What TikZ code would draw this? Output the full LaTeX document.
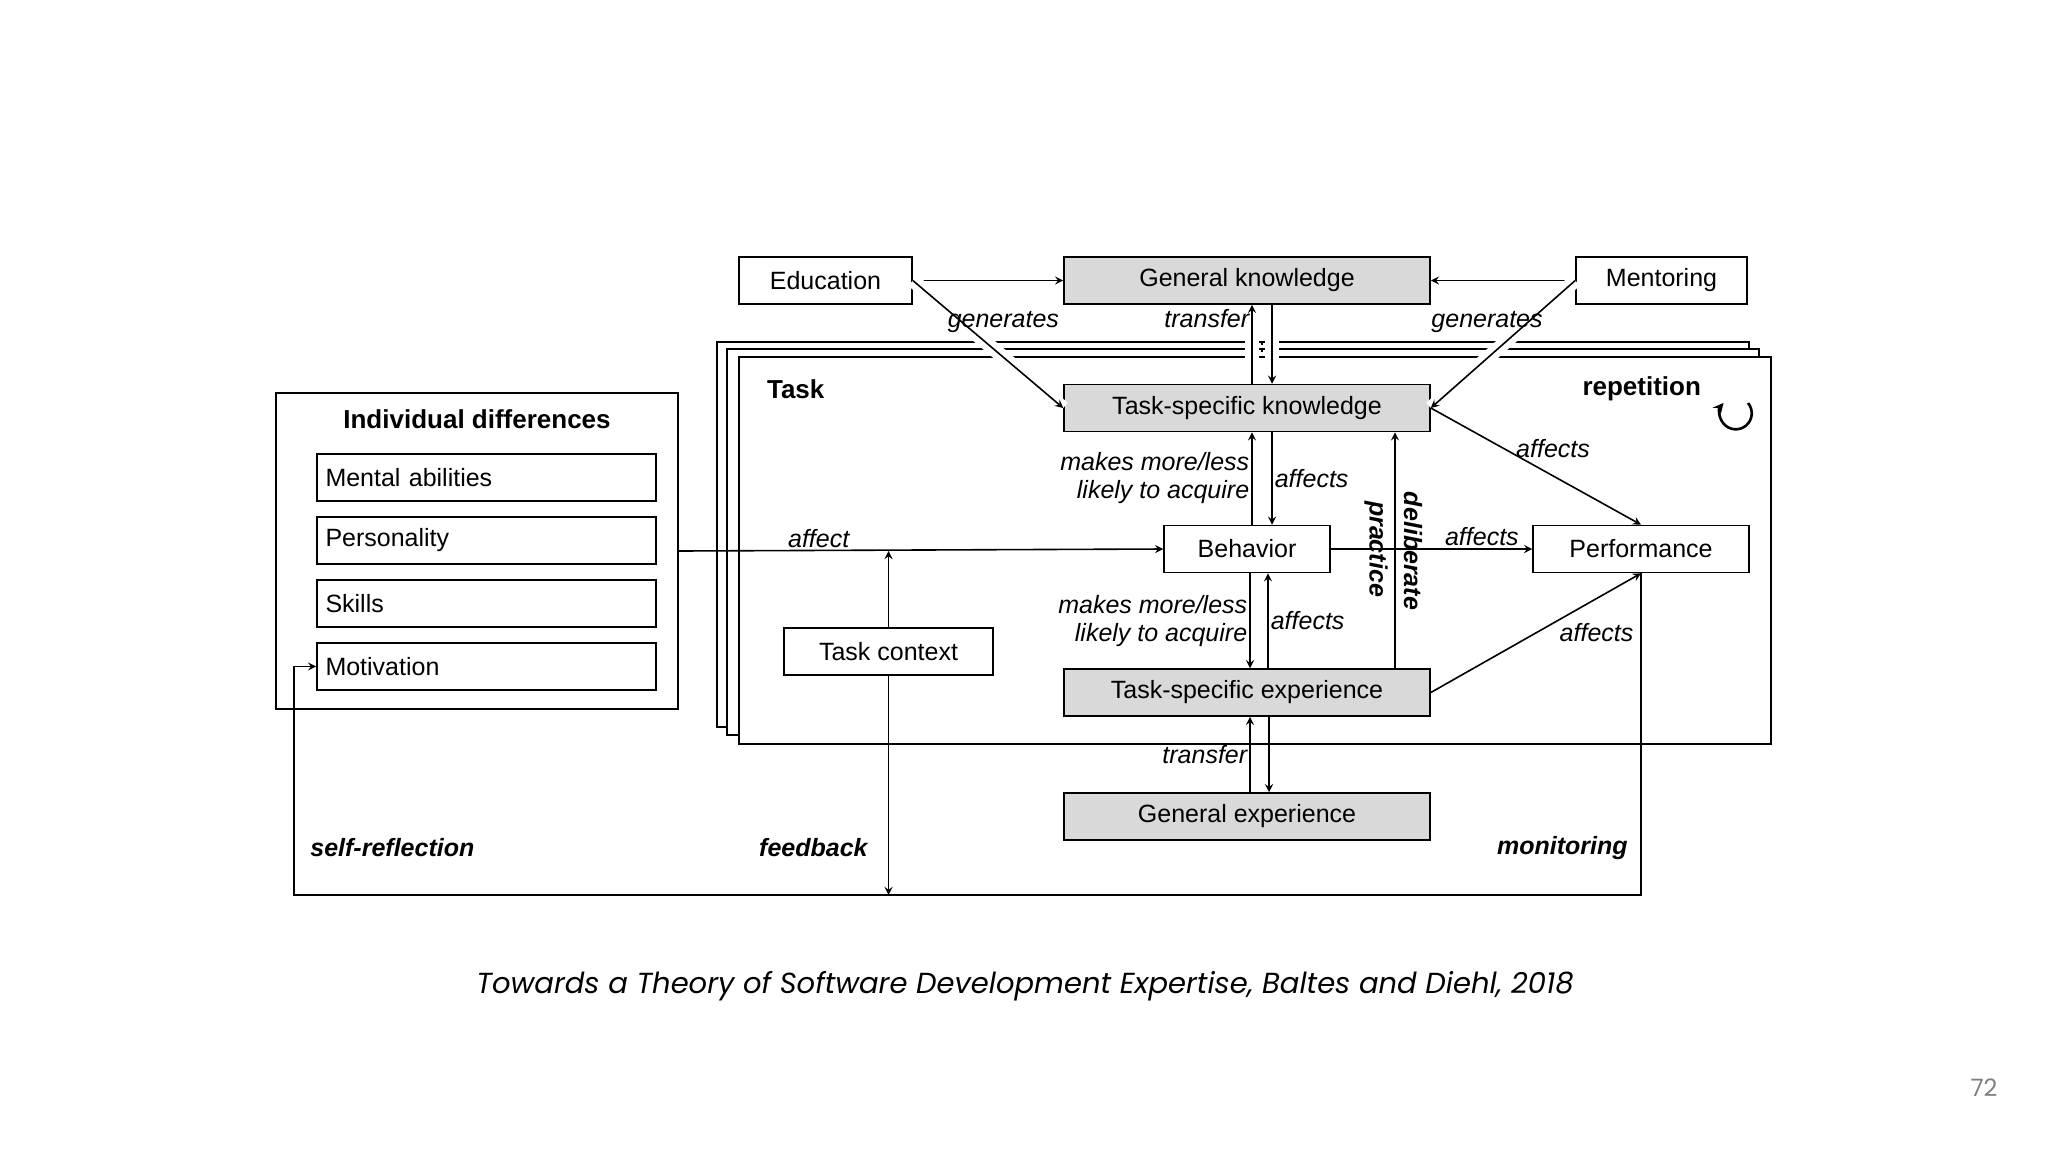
\documentclass[tikz,border=0pt]{standalone}
\usepackage{fontspec}
\setmainfont{Liberation Sans}
\newfontfamily\capfont{Poppins}
\usetikzlibrary{arrows,shapes,calc,positioning}
\tikzstyle{box} = [rectangle, draw=black, line width=0.8pt, minimum height=23.5pt, text centered, inner sep=0pt, font=\fontsize{12.5}{14}\selectfont]
\tikzstyle{grey} = [box, fill=black!15, minimum width=183pt]
\tikzstyle{item} = [box, minimum width=169.5pt, text width=161pt, align=left]
\tikzstyle{frame} = [draw=black, line width=1.4pt, fill=white]
\tikzstyle{arrow} = [line width=0.8pt,->,>=stealth]
\tikzstyle{cut} = [preaction={draw=white, line width=7pt, -}]
\tikzstyle{lbl} = [font=\fontsize{12.5}{14}\selectfont\itshape, inner sep=1pt]
\tikzstyle{blbl} = [font=\fontsize{12.5}{14}\selectfont\bfseries\itshape, inner sep=1pt]
\begin{document}
\begin{tikzpicture}[x=0.5pt, y=-0.5pt]
\useasboundingbox (0,0) rectangle (2048,1152);
% stacked task frames
\draw [frame] (717,342) rectangle (1749,727);
\draw [frame] (727,349) rectangle (1759,735);
\draw [frame] (739,357) rectangle (1771,744);
\node [anchor=west, font=\fontsize{13}{15}\selectfont\bfseries] at (760,389) {Task};
\node [anchor=east, font=\fontsize{13}{15}\selectfont\bfseries] at (1708,389) {repetition};
\draw [line width=1.3pt, ->, >=stealth] (1748,403) arc (-40:220:16);
% individual differences
\draw [line width=1pt] (276,393) rectangle (678,709);
\node [font=\fontsize{13}{15}\selectfont\bfseries] at (477,419) {Individual differences};
\node (MA) [item] at (486.5,477.5) {Mental abilities};
\node (Pers) [item] at (486.5,540.5) {Personality};
\node (Sk) [item] at (486.5,603.5) {Skills};
\node (Mot) [item] at (486.5,666.5) {Motivation};
\coordinate (IDe) at (678,551);
% nodes
\node (Edu) [box, minimum width=86.5pt] at (825.5,280.5) {Education};
\node (GK) [grey] at (1247,280.5) {General knowledge};
\node (Ment) [box, minimum width=85.5pt] at (1661.5,280.5) {Mentoring};
\node (TSK) [grey] at (1247,408) {Task-specific knowledge};
\node (Beh) [box, minimum width=83pt] at (1247,549) {Behavior};
\node (Perf) [box, minimum width=108pt] at (1641,549) {Performance};
\node (TSE) [grey] at (1247,692.5) {Task-specific experience};
\node (GE) [grey] at (1247,816.5) {General experience};
\node (TC) [box, minimum width=104.5pt] at (888.5,651.5) {Task context};
\coordinate (loopL) at (294,895);
% arrows
\draw [arrow] (Edu.east) -- (GK.west);
\draw [arrow, cut] (Edu.east) -- node [lbl, pos=0.4, above right=-2pt and -14pt] {generates} (TSK.west);
\draw [arrow] (Ment.west) -- (GK.east);
\draw [arrow, cut] (Ment.west) -- node [lbl, pos=0.4, above left=-2pt and -14pt] {generates} (TSK.east);
\draw [arrow, cut] ($(TSK.north)+(5,0)$) -- node [lbl, pos=0.83, left] {transfer} ($(GK.south)+(5,0)$);
\draw [arrow, cut] ($(GK.south)+(25,0)$) -- ($(TSK.north)+(25,0)$);
\draw [line width=1.2pt, dotted] (1262,343) -- (1262,360);
\draw [arrow] ($(Beh.north)+(5,0)$) -- node [lbl, left, align=right] {makes more/less\\likely to acquire} ($(TSK.south)+(5,0)$);
\draw [arrow] ($(TSK.south)+(25,0)$) -- node [lbl, right] {affects} ($(Beh.north)+(25,0)$);
\draw [arrow] ($(Beh.south)+(3,0)$) -- node [lbl, left, align=right] {makes more/less\\likely to acquire} ($(TSE.north)+(3,0)$);
\draw [arrow] ($(TSE.north)+(21,0)$) -- node [lbl, right] {affects} ($(Beh.south)+(21,0)$);
\draw [arrow] ($(TSE.north)+(148,0)$) -- ($(TSK.south)+(148,0)$);
\node [blbl, rotate=-90] at (1413,551) {deliberate};
\node [blbl, rotate=-90] at (1376,549) {practice};
\draw [arrow] (Beh.east) -- node [lbl, pos=0.75, above] {affects} (Perf.west);
\draw [arrow] (TSK.east) -- node [lbl, pos=0.45, above right=0pt and -6pt] {affects} (Perf.north);
\draw [arrow] (TSE.east) -- node [lbl, pos=0.6, below right=0pt and 0pt] {affects} (Perf.south);
\draw [arrow] ($(GE.north)+(3,0)$) -- node [lbl, left] {transfer} ($(TSE.south)+(3,0)$);
\draw [arrow] ($(TSE.south)+(22,0)$) -- ($(GE.north)+(22,0)$);
\draw [arrow] (IDe) -- node [lbl, pos=0.29, above] {affect} (Beh.west);
\draw [arrow] (TC.north) -- (TC.north |- IDe);
\draw [arrow] (Perf.south) |- (loopL) |- (Mot.west);
\draw [arrow] (TC.south) -- (TC.south |- loopL);
\node [blbl, anchor=west] at (308,848) {self-reflection};
\node [blbl, anchor=east] at (870,848) {feedback};
\node [blbl, anchor=east] at (1630,848) {monitoring};
% caption
\node [font=\capfont\fontsize{14.5}{17}\selectfont\itshape] at (1025,986) {Towards a Theory of Software Development Expertise, Baltes and Diehl, 2018};
\node [font=\capfont\fontsize{12}{14}\selectfont, text=black!50] at (1984,1088) {72};
\end{tikzpicture}
\end{document}
